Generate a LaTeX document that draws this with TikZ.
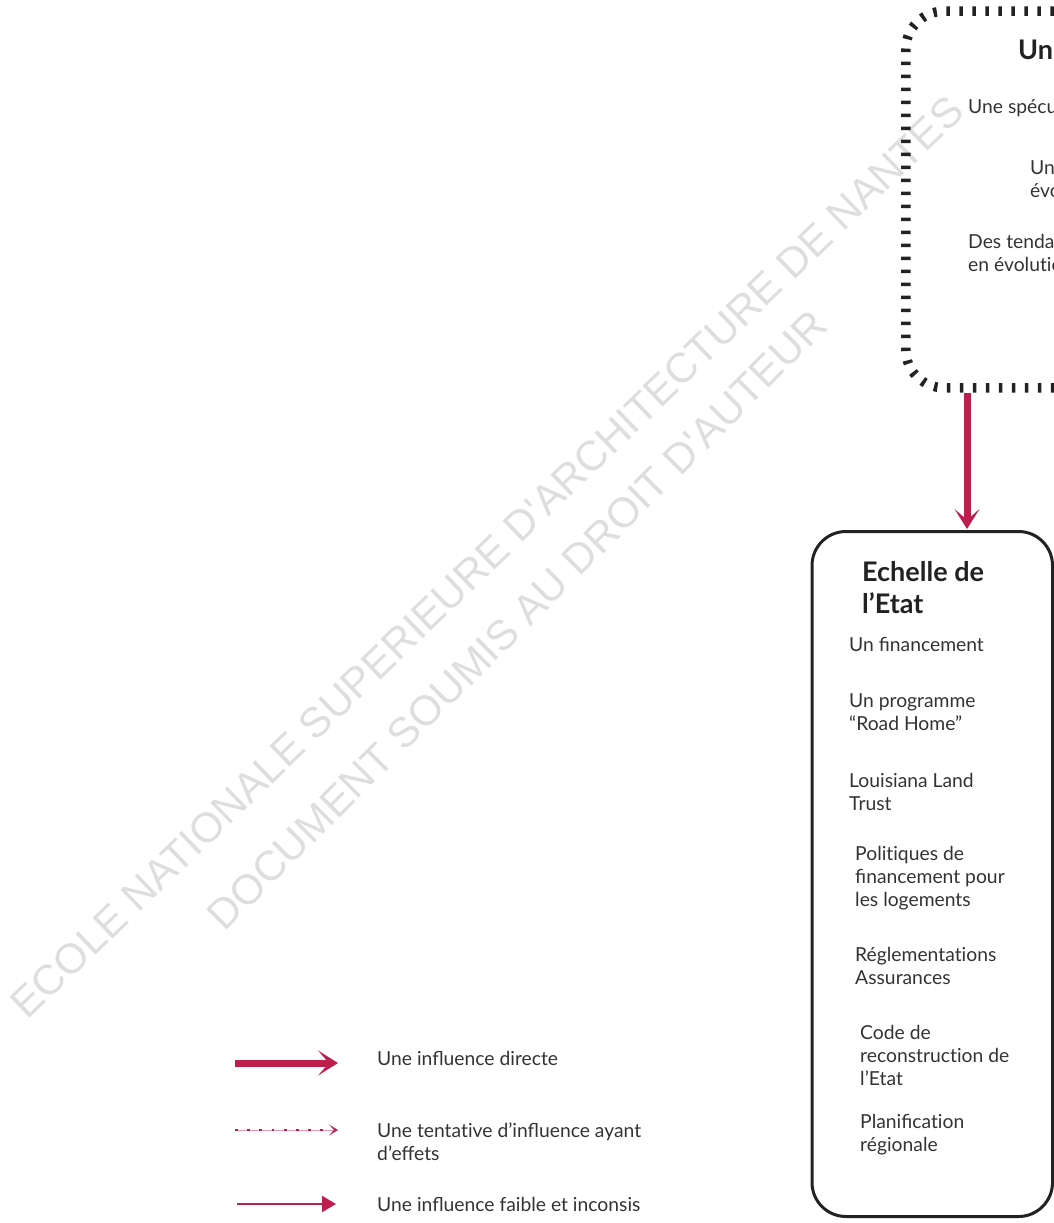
\documentclass[tikz,border=0pt]{standalone}
\usepackage{fontspec}
\setmainfont{Lato}
\newfontfamily\wmfont{Liberation Sans}
\usetikzlibrary{arrows.meta,calc}
\definecolor{crim}{RGB}{190,30,77}
\definecolor{txt}{RGB}{51,51,51}
\definecolor{boxline}{RGB}{34,34,34}
\newcommand\nti{t\kern0pt i}
\begin{document}
\begin{tikzpicture}[x=1pt,y=-1pt,
  txtnode/.style={text=txt, font=\fontsize{19.3}{23}\selectfont, align=left, inner sep=0pt, anchor=west},
  titlenode/.style={text=boxline, font=\fontsize{27}{32}\selectfont\bfseries, align=left, inner sep=0pt, anchor=west},
  ctxbox/.style={draw=boxline, line width=9.5pt, dash pattern=on 3.5pt off 9.5pt, rounded corners=38pt, minimum width=420pt, minimum height=376.5pt, inner sep=0pt, anchor=north west},
  etatbox/.style={draw=boxline, line width=3pt, rounded corners=34pt, minimum width=240.5pt, minimum height=685pt, inner sep=0pt, anchor=north west},
  direct/.style={draw=crim, line width=7pt, -{Stealth[length=20pt,width=25pt,inset=11pt]}},
  tentline/.style={draw=crim!45, line width=1pt, -{Stealth[length=9pt,width=11pt,inset=5pt,color=crim]}},
  tentdots/.style={draw=crim, line width=2.8pt, dash pattern=on 2.8pt off 9.4pt},
  weak/.style={draw=crim, line width=2pt, -{Triangle[length=14pt,width=16pt]}},
  wm/.style={text=black!13, font=\wmfont\fontsize{42}{44}\selectfont, inner sep=0pt}
]
\useasboundingbox (0,0) rectangle (1054,1223);
\clip (0,0) rectangle (1054,1223);

% watermark
\node[wm, rotate=44] (wm1) at (487,557) {ECOLE NATIONALE SUPERIEURE D'ARCHITECTURE DE NANTES};
\node[wm, rotate=45] (wm2) at (517,620) {DOCUMENT SOUMIS AU DROIT D'AUTEUR};

% context box (dotted)
\node[ctxbox] (ctx) at (901,6.5) {};
\node[titlenode] (ctxtitle) at (1018,50) {Un};
\node[txtnode] (c1) at (968,108) {Une spécula\nti on};
\node[txtnode] (c2) at (1030,179) {Un marché\\évolu\nti f};
\node[txtnode] (c3) at (968,253) {Des tendances\\en évolu\nti on};

% state box
\node[etatbox] (etat) at (810.5,530) {};
\node[titlenode] (etattitle) at (862,588) {Echelle de\\l’Etat};
\node[txtnode] (e1) at (849,644) {Un financement};
\node[txtnode] (e2) at (849,712) {Un programme\\“Road Home”};
\node[txtnode] (e3) at (849,791.5) {Louisiana Land\\Trust};
\node[txtnode] (e4) at (855,878) {Poli\nti ques de\\financement pour\\les logements};
\node[txtnode] (e5) at (855,966) {Réglementa\nti ons\\Assurances};
\node[txtnode] (e6) at (860,1055) {Code de\\reconstruc\nti on de\\l’Etat};
\node[txtnode] (e7) at (860,1135) {Planifica\nti on\\régionale};

% main connector
\draw[direct, shorten >=1pt] ($(ctx.south west)+(66,0)$) -- ($(etat.north west)+(156.5,0)$);

% legend
\coordinate (l1s) at (235,1063);
\coordinate (l1e) at (338,1063);
\draw[direct] (l1s) -- (l1e);
\node[txtnode] (t1) at (377,1058) {Une influence directe};

\coordinate (l2s) at (235,1130);
\coordinate (l2e) at (338,1130);
\coordinate (l2d) at (326,1130);
\draw[tentline] (l2s) -- (l2e);
\draw[tentdots] (l2s) -- (l2d);
\node[txtnode] (t2) at (377,1142) {Une tenta\nti ve d’influence ayant\\d’effets};

\coordinate (l3s) at (237,1204);
\coordinate (l3e) at (336,1204);
\draw[weak] (l3s) -- (l3e);
\node[txtnode] (t3) at (377,1204) {Une influence faible et inconsis};
\end{tikzpicture}
\end{document}
